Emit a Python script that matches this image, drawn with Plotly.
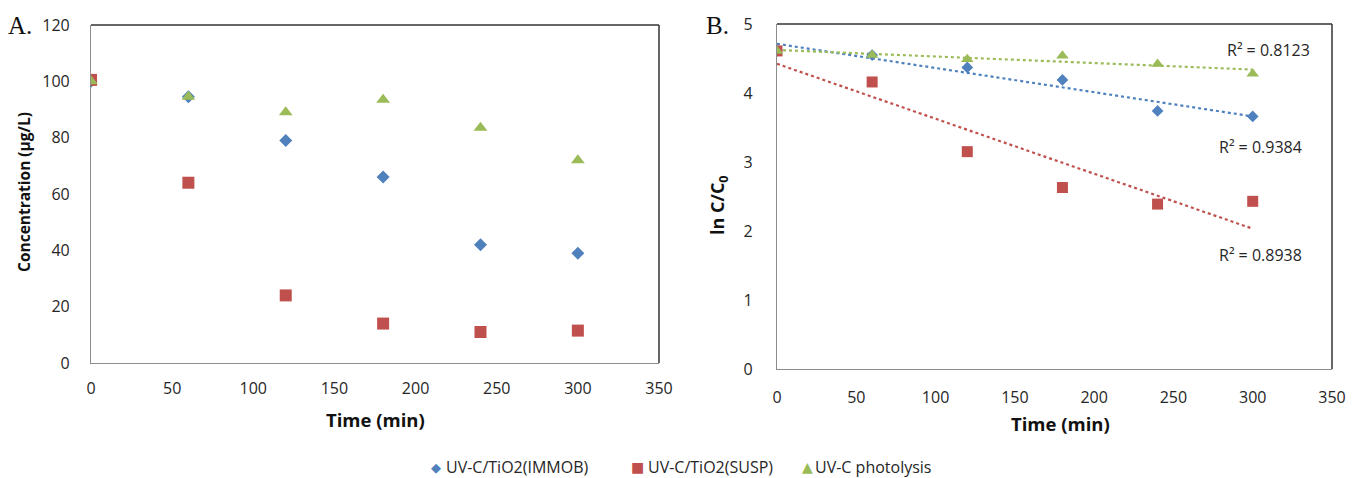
import numpy as np
import plotly.graph_objects as go

# ---------------- data ----------------
time_min = [0, 60, 120, 180, 240, 300]
immob_conc = [100, 94.5, 79, 66, 42, 39]
susp_conc = [100.5, 64, 24, 14, 11, 11.5]
photo_conc = [100, 94.5, 89, 93.5, 83.5, 72]

immob_ln = [4.61, 4.55, 4.37, 4.19, 3.74, 3.66]
susp_ln = [4.61, 4.16, 3.15, 2.63, 2.39, 2.43]
photo_ln = [4.61, 4.55, 4.49, 4.54, 4.42, 4.28]

series_names = ["UV-C/TiO2(IMMOB)", "UV-C/TiO2(SUSP)", "UV-C photolysis"]
r2_labels = ["R\u00b2 = 0.9384", "R\u00b2 = 0.8938", "R\u00b2 = 0.8123"]

x_ticks = [0, 50, 100, 150, 200, 250, 300, 350]
y_ticks_a = [0, 20, 40, 60, 80, 100, 120]
y_ticks_b = [0, 1, 2, 3, 4, 5]

# ---------------- styles ----------------
BLUE = "#4F81BD"
RED = "#C0504D"
GREEN = "#9BBB59"
colors = [BLUE, RED, GREEN]
symbols = ["diamond", "square", "triangle-up"]
sizes = [10, 12, 12]
legend_glyphs = ["\u25c6", "\u25a0", "\u25b2"]

SANS = "Open Sans, Liberation Sans, sans-serif"
TICKFONT = dict(family=SANS, size=16, color="#262626")

W, H = 1355, 478


def px_x(p):
    return p / W


def px_y(p):
    return 1 - p / H


fig = go.Figure()

conc_sets = [immob_conc, susp_conc, photo_conc]
ln_sets = [immob_ln, susp_ln, photo_ln]

for i in range(3):
    fig.add_trace(go.Scatter(
        x=time_min, y=conc_sets[i], mode="markers", name=series_names[i],
        marker=dict(symbol=symbols[i], size=sizes[i], color=colors[i], line=dict(width=0)),
        xaxis="x", yaxis="y", showlegend=False,
    ))

# linear trendlines fitted to the ln data
for i in range(3):
    k, b = np.polyfit(time_min, ln_sets[i], 1)
    xs = [time_min[0], time_min[-1]]
    fig.add_trace(go.Scatter(
        x=xs, y=[k * xs[0] + b, k * xs[1] + b], mode="lines",
        line=dict(color=colors[i], width=2.2, dash="dot"),
        xaxis="x2", yaxis="y2", showlegend=False, hoverinfo="skip",
    ))

for i in range(3):
    fig.add_trace(go.Scatter(
        x=time_min, y=ln_sets[i], mode="markers", name=series_names[i],
        marker=dict(symbol=symbols[i], size=sizes[i] - 1, color=colors[i], line=dict(width=0)),
        xaxis="x2", yaxis="y2", showlegend=False,
    ))

axis_common = dict(showgrid=False, zeroline=False, showline=True, linecolor="#8c8c8c",
                   linewidth=1.2, ticks="", tickfont=TICKFONT, fixedrange=True,
                   automargin=False)

fig.update_layout(
    width=W, height=H,
    margin=dict(l=0, r=0, t=0, b=0, autoexpand=False),
    paper_bgcolor="white", plot_bgcolor="white",
    showlegend=False,
    xaxis=dict(domain=[px_x(91), px_x(659)], range=[0, 350], tickvals=x_ticks,
               ticklabelstandoff=11, anchor="y", **axis_common),
    yaxis=dict(domain=[px_y(363), px_y(25)], range=[0, 120], tickvals=y_ticks_a,
               ticklabelstandoff=17, anchor="x", **axis_common),
    xaxis2=dict(domain=[px_x(777), px_x(1332)], range=[0, 350], tickvals=x_ticks,
                ticklabelstandoff=14, anchor="y2", **axis_common),
    yaxis2=dict(domain=[px_y(369), px_y(24)], range=[0, 5], tickvals=y_ticks_b,
                ticklabelstandoff=20, anchor="x2", **axis_common),
)

# top and right borders of each plot area
for xr, yr in [("x", "y"), ("x2", "y2")]:
    fig.add_shape(type="line", xref=xr + " domain", yref=yr + " domain", x0=0, x1=1, y0=1, y1=1,
                  line=dict(color="#333333", width=1.5))
    fig.add_shape(type="line", xref=xr + " domain", yref=yr + " domain", x0=1, x1=1, y0=0, y1=1,
                  line=dict(color="#333333", width=1.5))

ann = []
# panel letters
for lab, px in [("A.", 6), ("B.", 704)]:
    ann.append(dict(text=lab, x=px_x(px), y=px_y(26), xref="paper", yref="paper", xanchor="left",
                    yanchor="middle", showarrow=False,
                    font=dict(family="Liberation Serif, serif", size=25, color="#111111")))
# axis titles
ann.append(dict(text="<b>Concentration (µg/L)</b>", x=px_x(24), y=px_y(192), xref="paper", yref="paper",
                textangle=-90, showarrow=False, xanchor="center", yanchor="middle",
                font=dict(family=SANS, size=15.5, color="#111111")))
ann.append(dict(text="<b>Time (min)</b>", x=px_x(375), y=px_y(419), xref="paper", yref="paper",
                showarrow=False, xanchor="center", yanchor="middle",
                font=dict(family=SANS, size=18.5, color="#111111")))
ann.append(dict(text="<b>ln C/C<sub>0</sub></b>", x=px_x(718), y=px_y(205), xref="paper", yref="paper",
                textangle=-90, showarrow=False, xanchor="center", yanchor="middle",
                font=dict(family=SANS, size=18, color="#111111")))
ann.append(dict(text="<b>Time (min)</b>", x=px_x(1060), y=px_y(423), xref="paper", yref="paper",
                showarrow=False, xanchor="center", yanchor="middle",
                font=dict(family=SANS, size=18.5, color="#111111")))
# R² labels
r2_pos = [(1260, 147), (1260, 255), (1268, 50)]
for lab, (px, py) in zip(r2_labels, r2_pos):
    ann.append(dict(text=lab, x=px_x(px), y=px_y(py), xref="paper", yref="paper", xanchor="center",
                    yanchor="middle", showarrow=False,
                    font=dict(family=SANS, size=16, color="#262626")))

# legend (glyph + label)
glyph_x = [436, 637, 807]
text_x = [444, 646, 813]
glyph_sizes = [13, 14, 14]
for i in range(3):
    ann.append(dict(text=legend_glyphs[i], x=px_x(glyph_x[i]), y=px_y(467), xref="paper", yref="paper",
                    xanchor="center", yanchor="middle", showarrow=False,
                    font=dict(family="DejaVu Sans, sans-serif", size=glyph_sizes[i], color=colors[i])))
    ann.append(dict(text=series_names[i], x=px_x(text_x[i]), y=px_y(467), xref="paper", yref="paper",
                    xanchor="left", yanchor="middle", showarrow=False,
                    font=dict(family=SANS, size=16, color="#262626")))
fig.update_layout(annotations=ann)

# remove the browser's default 8px page margin so the figure fills the window exactly
fig.write_html("out.html", config={"displayModeBar": False},
               post_script="document.body.style.margin='0';document.body.style.overflow='hidden';")
